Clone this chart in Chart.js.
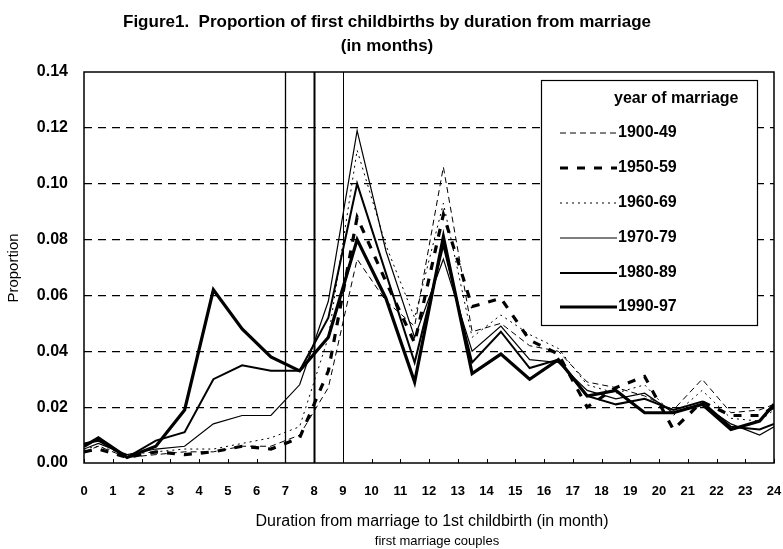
<!DOCTYPE html>
<html><head><meta charset="utf-8">
<script src="https://cdn.jsdelivr.net/npm/chart.js@4"></script>
<style>html,body{margin:0;padding:0;background:#fff}</style>
</head><body>
<canvas id="c" width="783" height="549"></canvas>
<script>
// ---- data ----
const months = [0, 0.5, 1.5, 2.5, 3.5, 4.5, 5.5, 6.5, 7.5, 8.5, 9.5, 10.5, 11.5, 12.5, 13.5, 14.5, 15.5, 16.5, 17.5, 18.5, 19.5, 20.5, 21.5, 22.5, 23.5, 24];
const xTickLabels = ['0','1','2','3','4','5','6','7','8','9','10','11','12','13','14','15','16','17','18','19','20','21','22','23','24'];
const seriesNames = ['1900-49', '1950-59', '1960-69', '1970-79', '1980-89', '1990-97'];
const s1900_49 = [0.004, 0.006, 0.002, 0.003, 0.004, 0.004, 0.006, 0.006, 0.010, 0.027, 0.073, 0.058, 0.049, 0.106, 0.047, 0.050, 0.042, 0.040, 0.029, 0.027, 0.024, 0.019, 0.030, 0.018, 0.019, 0.021];
const s1950_59 = [0.004, 0.005, 0.002, 0.004, 0.003, 0.004, 0.006, 0.005, 0.009, 0.033, 0.088, 0.065, 0.043, 0.089, 0.056, 0.059, 0.044, 0.039, 0.020, 0.027, 0.031, 0.012, 0.022, 0.017, 0.017, 0.020];
const s1960_69 = [0.005, 0.006, 0.003, 0.004, 0.005, 0.005, 0.007, 0.009, 0.013, 0.045, 0.112, 0.078, 0.052, 0.093, 0.045, 0.053, 0.046, 0.041, 0.028, 0.025, 0.028, 0.017, 0.026, 0.016, 0.015, 0.019];
const s1970_79 = [0.005, 0.007, 0.003, 0.005, 0.006, 0.014, 0.017, 0.017, 0.028, 0.058, 0.119, 0.076, 0.045, 0.073, 0.040, 0.049, 0.037, 0.036, 0.026, 0.023, 0.025, 0.018, 0.021, 0.014, 0.010, 0.013];
const s1980_89 = [0.007, 0.008, 0.002, 0.008, 0.011, 0.030, 0.035, 0.033, 0.033, 0.052, 0.100, 0.068, 0.036, 0.078, 0.036, 0.047, 0.034, 0.037, 0.024, 0.021, 0.023, 0.019, 0.022, 0.013, 0.012, 0.014];
const s1990_97 = [0.006, 0.009, 0.002, 0.006, 0.019, 0.062, 0.048, 0.038, 0.033, 0.045, 0.080, 0.059, 0.029, 0.081, 0.032, 0.039, 0.030, 0.037, 0.024, 0.026, 0.018, 0.018, 0.021, 0.012, 0.015, 0.021];
const yTickValues = [0, 0.02, 0.04, 0.06, 0.08, 0.10, 0.12, 0.14];
const markerMonths = [7, 8, 9];
const legendTitle = 'year of marriage';
const chartTitle = ['Figure1.  Proportion of first childbirths by duration from marriage', '(in months)'];
const xTitle = ['Duration from marriage to 1st childbirth (in month)', 'first marriage couples'];
const yTitle = 'Proportion';

// ---- styles ----
const FONT = "'Liberation Sans', Arial, Helvetica, sans-serif";
const styles = [
  {width: 1,   dash: [6, 4]},
  {width: 3.2, dash: [8, 9]},
  {width: 1,   dash: [2, 4]},
  {width: 1.2, dash: []},
  {width: 2,   dash: []},
  {width: 3.2, dash: []}
];
const allSeries = [s1900_49, s1950_59, s1960_69, s1970_79, s1980_89, s1990_97];

const datasets = allSeries.map((vals, i) => ({
  label: seriesNames[i],
  data: months.map((m, j) => ({x: m, y: vals[j]})),
  borderColor: '#000',
  backgroundColor: '#000',
  borderWidth: styles[i].width,
  borderDash: styles[i].dash,
  pointRadius: 0,
  tension: 0,
  fill: false
}));

const decor = {
  id: 'decor',
  afterDatasetsDraw(chart) {
    const {ctx, chartArea: a, scales: {x, y}} = chart;
    ctx.save();
    ctx.strokeStyle = '#000';
    ctx.fillStyle = '#000';
    // marker verticals
    const mw = [1.3, 2, 1];
    markerMonths.forEach((m, i) => {
      const px = Math.round(x.getPixelForValue(m)) + 0.5;
      ctx.beginPath();
      ctx.lineWidth = mw[i];
      ctx.moveTo(px, a.top); ctx.lineTo(px, a.bottom);
      ctx.stroke();
    });
    // inward tick marks on x axis
    ctx.lineWidth = 1;
    xTickLabels.forEach(t => {
      const px = Math.round(x.getPixelForValue(Number(t))) + 0.5;
      ctx.beginPath(); ctx.moveTo(px, a.bottom); ctx.lineTo(px, a.bottom - 4); ctx.stroke();
    });
    // frame
    ctx.lineWidth = 1.5;
    ctx.strokeRect(a.left, a.top, a.right - a.left, a.bottom - a.top);

    // legend box
    const L = {left: 541, top: 80, right: 757, bottom: 325};
    ctx.fillStyle = '#fff';
    ctx.fillRect(L.left, L.top, L.right - L.left, L.bottom - L.top);
    ctx.lineWidth = 1.2;
    ctx.strokeRect(L.left + 0.5, L.top + 0.5, L.right - L.left, L.bottom - L.top);
    ctx.fillStyle = '#000';
    ctx.font = "bold 16px " + FONT;
    ctx.textBaseline = 'middle';
    ctx.textAlign = 'left';
    ctx.fillText(legendTitle, 614, 99);
    const rowY = [133, 168, 203, 238, 273, 307];
    chart.data.datasets.forEach((ds, i) => {
      ctx.beginPath();
      ctx.lineWidth = ds.borderWidth;
      ctx.setLineDash(ds.borderDash);
      ctx.moveTo(560, rowY[i]); ctx.lineTo(617, rowY[i]);
      ctx.stroke();
      ctx.setLineDash([]);
      ctx.fillText(ds.label, 618, rowY[i]);
    });

    // axis titles
    ctx.textAlign = 'center';
    ctx.font = "16px " + FONT;
    ctx.fillText(xTitle[0], 432, 522);
    ctx.font = "13px " + FONT;
    ctx.fillText(xTitle[1], 437, 541);
    ctx.save();
    ctx.translate(14, 268);
    ctx.rotate(-Math.PI / 2);
    ctx.font = "15px " + FONT;
    ctx.fillText(yTitle, 0, 0);
    ctx.restore();
    ctx.restore();
  }
};

new Chart(document.getElementById('c'), {
  type: 'line',
  data: {datasets},
  plugins: [decor],
  options: {
    responsive: false,
    animation: false,
    layout: {padding: {left: 0, right: 9, top: 0, bottom: 0}},
    plugins: {
      legend: {display: false},
      tooltip: {enabled: false},
      title: {
        display: true,
        text: chartTitle,
        color: '#000',
        font: {family: FONT, size: 17, weight: 'bold', lineHeight: '24px'},
        padding: {top: 10, bottom: 14}
      }
    },
    scales: {
      x: {
        type: 'linear',
        min: 0, max: 24,
        grid: {display: false, drawTicks: false},
        border: {display: false},
        afterBuildTicks: s => { s.ticks = xTickLabels.map(t => ({value: Number(t)})); },
        afterFit: s => { s.height = 86; s.paddingLeft = 0; s.paddingRight = 0; },
        ticks: {
          autoSkip: false, maxRotation: 0, minRotation: 0, padding: 21, color: '#000',
          font: {family: FONT, size: 13, weight: 'bold'},
          callback: (v, i) => xTickLabels[i]
        }
      },
      y: {
        type: 'linear',
        min: 0, max: 0.14,
        afterBuildTicks: s => { s.ticks = yTickValues.map(v => ({value: v})); },
        afterFit: s => { s.width = 84; },
        grid: {
          drawTicks: false,
          color: c => (c.tick && c.tick.value > 0.001 && c.tick.value < 0.139) ? '#000' : 'rgba(0,0,0,0)',
          lineWidth: 1.2
        },
        border: {display: false, dash: [8, 6]},
        ticks: {
          padding: 16, color: '#000',
          font: {family: FONT, size: 16, weight: 'bold'},
          callback: v => Number(v).toFixed(2)
        }
      }
    }
  }
});
</script>
</body></html>
